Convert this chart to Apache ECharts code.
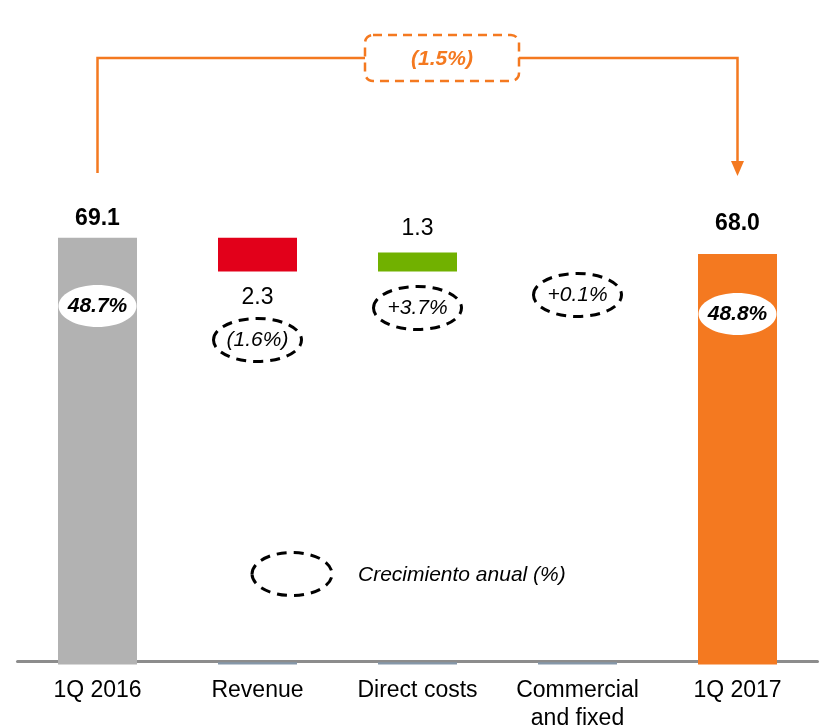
<!DOCTYPE html>
<html>
<head>
<meta charset="utf-8">
<script src="https://cdn.jsdelivr.net/npm/echarts@6/dist/echarts.min.js"></script>
<style>
html,body{margin:0;padding:0;background:#fff;}
#main{width:822px;height:728px;}
</style>
</head>
<body>
<div id="main"></div>
<script>
// datos del puente 1Q 2016 -> 1Q 2017
var categories = ['1Q 2016', 'Revenue', 'Direct costs', 'Commercial\nand fixed', '1Q 2017'];
var totals = [69.1, null, null, null, 68.0];
var helper = [null, 66.8, 66.8, null, null];
var deltas = [null, 2.3, 1.3, null, null];
var floorMarks = [null, 40.15, 40.15, 40.15, null];
var growthLabels = ['48.7%', '(1.6%)', '+3.7%', '+0.1%', '48.8%'];
var totalGrowth = '(1.5%)';

var FONT = '"Liberation Sans", Arial, sans-serif';
var ORANGE = '#F47920';

var chart = echarts.init(document.getElementById('main'));
chart.setOption({
    animation: false,
    grid: { left: 17.5, width: 800, top: 78, height: 586.5, outerBoundsMode: 'none', containLabel: false },
    xAxis: {
        type: 'category',
        data: categories,
        offset: -3,
        axisLine: { lineStyle: { color: '#8C8C8C', width: 3 } },
        axisTick: { show: false },
        axisLabel: {
            interval: 0, margin: 15, color: '#000',
            fontFamily: FONT, fontSize: 23, lineHeight: 28
        }
    },
    yAxis: {
        type: 'value', min: 40, max: 80, show: false,
        splitLine: { show: false }
    },
    series: [
        {
            type: 'bar', barWidth: 79, barGap: '-100%',
            data: totals.map(function (v, i) {
                return {
                    value: v,
                    itemStyle: { color: i === 0 ? '#B2B2B2' : ORANGE },
                    label: { distance: i === 0 ? 8 : 19 }
                };
            }),
            label: {
                show: true, position: 'top', color: '#000',
                fontFamily: FONT, fontSize: 23, fontWeight: 'bold',
                formatter: function (p) { return p.value.toFixed(1); }
            }
        },
        {
            type: 'bar', stack: 'w', barWidth: 79, barGap: '-100%',
            itemStyle: { color: 'transparent' },
            data: helper
        },
        {
            type: 'bar', stack: 'w', barWidth: 79, barGap: '-100%',
            data: deltas.map(function (v, i) {
                return {
                    value: v,
                    itemStyle: { color: i === 1 ? '#E2001A' : '#71B100' },
                    label: i === 1 ? { position: 'bottom', distance: 15 } : { position: 'top', distance: 12 }
                };
            }),
            label: {
                show: true, color: '#000',
                fontFamily: FONT, fontSize: 23,
                formatter: function (p) { return p.value.toFixed(1); }
            }
        },
        {
            type: 'bar', barWidth: 79, barGap: '-100%',
            itemStyle: { color: '#8597A9' },
            data: floorMarks
        }
    ]
});

// anotaciones
var ellY = [306, 340, 308, 295, 314];
var els = [];
categories.forEach(function (c, i) {
    var x = chart.convertToPixel({ xAxisIndex: 0 }, c);
    var solid = (i === 0 || i === 4);
    els.push({
        type: 'ellipse',
        shape: solid ? { cx: x, cy: ellY[i], rx: 39, ry: 21 } : { cx: x, cy: ellY[i], rx: 44, ry: 21.5 },
        style: solid ? { fill: '#fff' } : { fill: 'transparent', stroke: '#000', lineWidth: 3, lineDash: [10, 7] },
        z: 10
    });
    els.push({
        type: 'text', x: x, y: ellY[i], z: 11,
        style: {
            text: growthLabels[i], fill: '#000', align: 'center', verticalAlign: 'middle',
            font: (solid ? 'italic bold ' : 'italic ') + '21px ' + FONT
        }
    });
});

var x0 = chart.convertToPixel({ xAxisIndex: 0 }, categories[0]);
var x4 = chart.convertToPixel({ xAxisIndex: 0 }, categories[4]);
els.push({
    type: 'polyline', z: 10,
    shape: { points: [[x0, 173], [x0, 58], [365, 58]] },
    style: { stroke: ORANGE, lineWidth: 2.5, fill: null }
});
els.push({
    type: 'polyline', z: 10,
    shape: { points: [[519, 58], [x4, 58], [x4, 163]] },
    style: { stroke: ORANGE, lineWidth: 2.5, fill: null }
});
els.push({
    type: 'polygon', z: 10,
    shape: { points: [[x4 - 6.5, 161], [x4 + 6.5, 161], [x4, 176]] },
    style: { fill: ORANGE }
});
els.push({
    type: 'rect', z: 10,
    shape: { x: 365, y: 35, width: 154, height: 46, r: 8 },
    style: { fill: '#fff', stroke: ORANGE, lineWidth: 2.5, lineDash: [9, 6] }
});
els.push({
    type: 'text', x: 442, y: 59, z: 11,
    style: {
        text: totalGrowth, fill: ORANGE, align: 'center', verticalAlign: 'middle',
        font: 'italic bold 21px ' + FONT
    }
});

// leyenda
els.push({
    type: 'ellipse', z: 10,
    shape: { cx: 292, cy: 574, rx: 40, ry: 21.5 },
    style: { fill: 'transparent', stroke: '#000', lineWidth: 3, lineDash: [10, 7] }
});
els.push({
    type: 'text', x: 358, y: 575, z: 11,
    style: {
        text: 'Crecimiento anual (%)', fill: '#000', align: 'left', verticalAlign: 'middle',
        font: 'italic 21px ' + FONT
    }
});

chart.setOption({ graphic: { elements: els } });
</script>
</body>
</html>
